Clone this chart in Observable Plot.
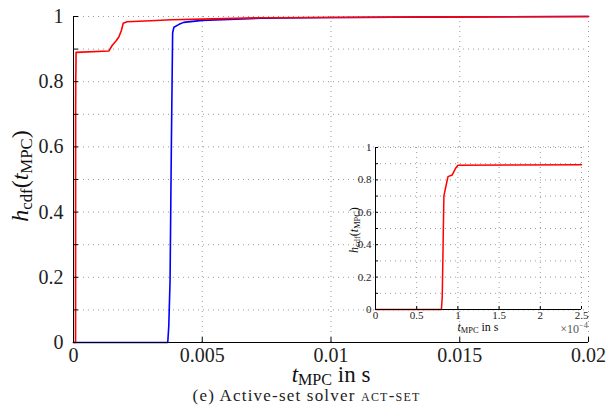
<!DOCTYPE html>
<html><head><meta charset="utf-8">
<script src="https://cdn.jsdelivr.net/npm/d3@7"></script>
<script src="https://cdn.jsdelivr.net/npm/@observablehq/plot@0.6"></script>
<style>
html,body{margin:0;padding:0;background:#fff;}
#wrap{position:relative;width:609px;height:412px;overflow:hidden;}
#main{position:absolute;left:0;top:0;}
#inset{position:absolute;left:335px;top:140px;}
#cap{position:absolute;left:2px;top:387px;width:609px;text-align:center;font-family:"Liberation Serif",serif;font-size:17px;letter-spacing:1.2px;color:#222;line-height:18px;}
.sc{font-variant:small-caps;}
</style></head><body>
<div id="wrap"><div id="main"></div><div id="inset"></div>
<div id="cap">(e) Active-set solver <span class="sc">act-set</span></div></div>
<script>
// Red curve (ACT-SET) — t in s, h_cdf
const redT = [0, 0.00008, 0.000081, 0.000082, 0.000083, 0.000085, 0.000088, 0.000093, 0.000097, 0.0001, 0.00137, 0.0015, 0.00165, 0.00176, 0.00186, 0.00193, 0.00208, 0.003, 0.0038, 0.005, 0.0073, 0.01, 0.015, 0.02];
const redH = [0, 0, 0.08, 0.39, 0.70, 0.75, 0.82, 0.83, 0.87, 0.89, 0.894, 0.911, 0.925, 0.937, 0.957, 0.979, 0.984, 0.987, 0.99, 0.992, 0.996, 0.997, 0.999, 1.0];
// Blue curve
const blueT = [0, 0.00366, 0.0037, 0.00375, 0.0038, 0.00385, 0.0039, 0.0041, 0.00428, 0.0050, 0.0073, 0.01, 0.015, 0.02];
const blueH = [0, 0, 0.05, 0.19, 0.6, 0.95, 0.967, 0.976, 0.982, 0.988, 0.995, 0.997, 0.999, 1.0];
// Main axes
const xTicks = [0, 0.005, 0.01, 0.015, 0.02];
const yTicks = [0, 0.2, 0.4, 0.6, 0.8, 1];
const yGrid = [0.1, 0.2, 0.3, 0.4, 0.5, 0.6, 0.7, 0.8, 0.9, 1.0];
// Inset axes (x in units of 1e-4 s)
const insetXTicks = [0, 0.5, 1, 1.5, 2, 2.5];
const insetScale = 1e-4;
const insetYTicks = [0, 0.2, 0.4, 0.6, 0.8, 1];
const insetYGrid = [0.1, 0.2, 0.3, 0.4, 0.5, 0.6, 0.7, 0.8, 0.9, 1.0];

const FONT = "'Liberation Serif', serif";
const red = redT.map((t, i) => ({t, h: redH[i]}));
const blue = blueT.map((t, i) => ({t, h: blueH[i]}));

function richText(sel, parts, size) {
  sel.style("font-family", FONT);
  parts.forEach(p => {
    const ts = sel.append("tspan").text(p.t);
    if (p.i) ts.attr("font-style", "italic");
    if (p.sub) ts.attr("font-size", size * 0.7).attr("dy", size * 0.15);
    if (p.sup) ts.attr("font-size", size * 0.7).attr("dy", -size * 0.4);
    if (p.reset) ts.attr("dy", p.reset);
  });
}
const hLabel = (s) => [{t:"h", i:1}, {t:"cdf", sub:1}, {t:"(", reset: -s*0.15}, {t:"t", i:1}, {t:"MPC", sub:1}, {t:")", reset: -s*0.15}];
const tLabel = (s) => [{t:"t", i:1}, {t:"MPC", sub:1}, {t:" in s", reset: -s*0.15}];

// ---------- Main plot ----------
const W = 609, H = 400, mL = 73, mR = 21, mT = 16, mB = 58;
const fw = W - mL - mR, fh = H - mT - mB;
const grid = {stroke: "#9a9a9a", strokeDasharray: "1,4", strokeWidth: 1};
const mainPlot = Plot.plot({
  width: W, height: H, marginLeft: mL, marginRight: mR, marginTop: mT, marginBottom: mB,
  style: `font-family: ${FONT}; background: transparent; color: #222;`,
  x: {domain: [0, 0.02]}, y: {domain: [0, 1]},
  marks: [
    Plot.ruleY(yGrid, grid),
    Plot.ruleX(xTicks.slice(1), grid),
    Plot.line(blue, {x: "t", y: "h", stroke: "#0000ff", strokeWidth: 1.6}),
    Plot.line(red, {x: "t", y: "h", stroke: "#ff0000", strokeWidth: 1.6}),
    Plot.ruleX([0], {stroke: "#000"}),
    Plot.ruleY([0], {stroke: "#000"}),
    Plot.ruleX(xTicks, {stroke: "#000", insetTop: fh - 5}),
    Plot.ruleY(yGrid, {stroke: "#000", insetRight: fw - 5}),
    Plot.axisX(xTicks, {tickSize: 0, tickPadding: 5, fontSize: 20, fontFamily: FONT, label: null, tickFormat: d => String(d)}),
    Plot.axisY(yTicks, {tickSize: 0, tickPadding: 10, fontSize: 20, fontFamily: FONT, label: null, tickFormat: d => String(d)})
  ]
});
document.getElementById("main").appendChild(mainPlot);
const ms = d3.select(mainPlot);
richText(ms.append("text").attr("transform", "translate(28,176) rotate(-90)").attr("text-anchor", "middle")
  .attr("font-size", 24).attr("fill", "#111"), hLabel(24), 24);
richText(ms.append("text").attr("x", 331).attr("y", 382).attr("text-anchor", "middle")
  .attr("font-size", 23).attr("fill", "#111"), tLabel(23), 23);

// ---------- Inset ----------
const iW = 260, iH = 200, imL = 40, imR = 14, imT = 7, imB = 31;
const ifw = iW - imL - imR, ifh = iH - imT - imB;
const insetRed = red.filter(d => d.t <= 2.5e-4).concat([{t: 2.5e-4, h: 0.894}]);
const insetPlot = Plot.plot({
  width: iW, height: iH, marginLeft: imL, marginRight: imR, marginTop: imT, marginBottom: imB,
  style: `font-family: ${FONT}; background: transparent; color: #222;`,
  x: {domain: [0, 2.5e-4]}, y: {domain: [0, 1]},
  marks: [
    Plot.frame({fill: "white", stroke: null}),
    Plot.ruleY(insetYGrid, grid),
    Plot.ruleX(insetXTicks.slice(1).map(d => d * insetScale), grid),
    Plot.line(insetRed, {x: "t", y: "h", stroke: "#ff0000", strokeWidth: 1.5}),
    Plot.ruleX([0], {stroke: "#000"}),
    Plot.ruleY([0], {stroke: "#000"}),
    Plot.ruleX(insetXTicks.map(d => d * insetScale), {stroke: "#000", insetTop: ifh - 3}),
    Plot.ruleY(insetYGrid, {stroke: "#000", insetRight: ifw - 3}),
    Plot.axisX(insetXTicks.map(d => d * insetScale), {tickSize: 0, tickPadding: 2, fontSize: 11, fontFamily: FONT, label: null, tickFormat: d => String(+(d / insetScale).toFixed(1))}),
    Plot.axisY(insetYTicks, {tickSize: 0, tickPadding: 4, fontSize: 11, fontFamily: FONT, label: null, tickFormat: d => String(d)})
  ]
});
document.getElementById("inset").appendChild(insetPlot);
const is = d3.select(insetPlot);
richText(is.append("text").attr("transform", "translate(23,90) rotate(-90)").attr("text-anchor", "middle")
  .attr("font-size", 12).attr("fill", "#111"), hLabel(12), 12);
richText(is.append("text").attr("x", imL + ifw / 2).attr("y", 191).attr("text-anchor", "middle")
  .attr("font-size", 12).attr("fill", "#111"), tLabel(12), 12);
richText(is.append("text").attr("x", 253).attr("y", 193).attr("text-anchor", "end")
  .attr("font-size", 12).attr("fill", "#555"), [{t: "×10"}, {t: "−4", sup: 1}], 12);
</script>
</body></html>
